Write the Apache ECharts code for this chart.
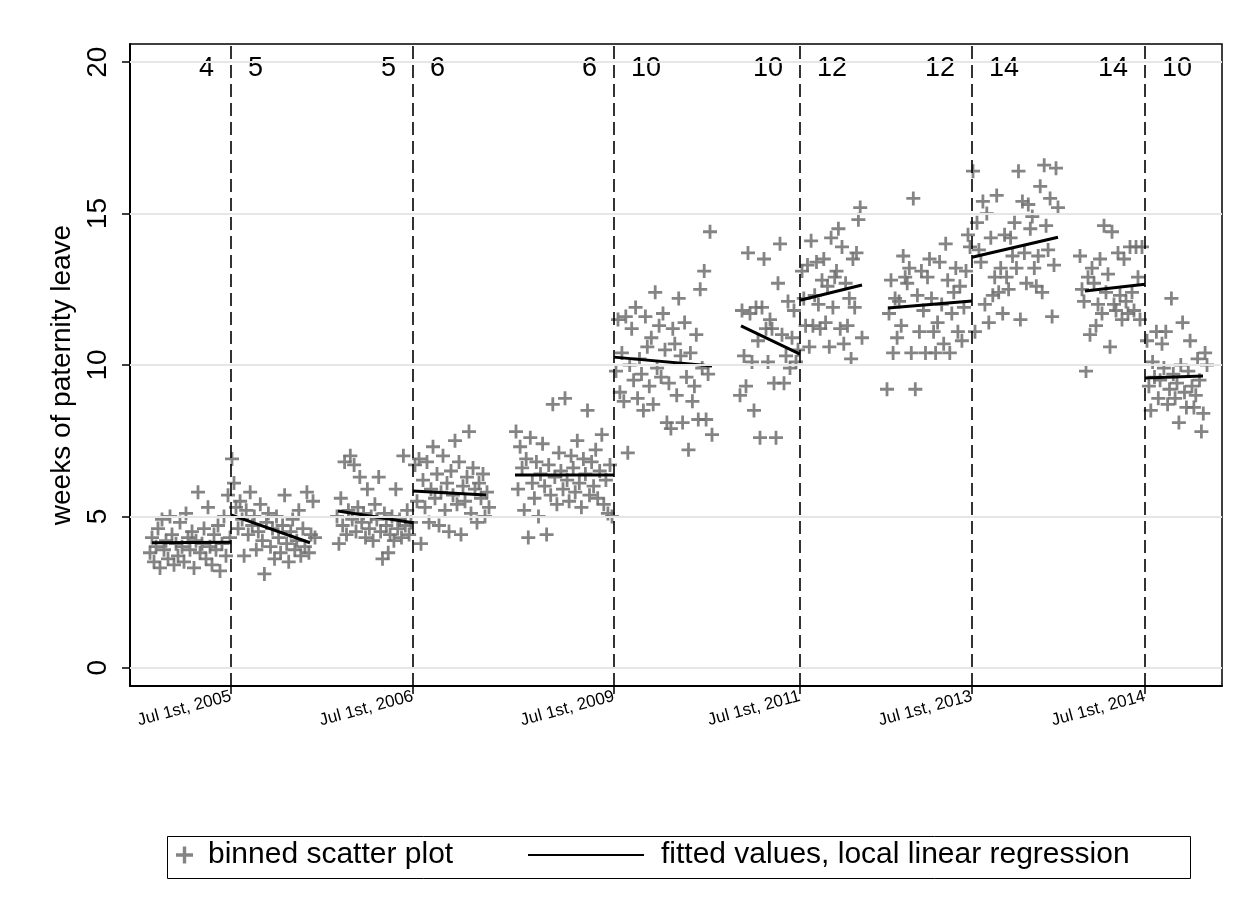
<!DOCTYPE html>
<html>
<head>
<meta charset="utf-8">
<script src="https://cdn.jsdelivr.net/npm/echarts@6/dist/echarts.min.js"></script>
<style>
  html, body { margin: 0; padding: 0; background: #fff; }
  #chart { width: 1244px; height: 911px; }
</style>
</head>
<body>
<div id="chart"></div>
<script>
// running bin index on the x axis; cutoffs are the policy reform dates
const cutoffs = [101, 283, 484, 670, 842, 1015];
const cutoffLabels = ['Jul 1st, 2005', 'Jul 1st, 2006', 'Jul 1st, 2009', 'Jul 1st, 2011', 'Jul 1st, 2013', 'Jul 1st, 2014'];
const weeksBefore = [4, 5, 6, 10, 12, 14];
const weeksAfter = [5, 6, 10, 12, 14, 10];

// first and last bin of each side of every cutoff
const binRanges = [
  [20, 100], [102, 185], [207, 281], [285, 359], [386, 482], [486, 582],
  [610, 668], [672, 732], [757, 840], [843, 928], [950, 1012], [1017, 1077]
];

// binned means, weeks of paternity leave
const bins2005pre = [3.8, 4.3, 3.5, 4.0, 4.6, 3.3, 4.9, 3.9, 4.2, 3.6, 5.0, 4.4, 3.4, 4.1, 3.7, 4.8, 4.0, 3.5, 5.1, 4.3, 3.9, 4.5, 3.3, 4.2, 5.8, 3.8, 4.1, 4.6, 3.6, 5.3, 4.0, 3.4, 4.4, 3.9, 4.7, 3.2, 4.1, 5.0, 3.7, 5.7, 4.3];
const bins2005post = [6.9, 6.1, 5.3, 4.6, 5.5, 4.9, 3.7, 5.2, 4.4, 5.8, 4.7, 5.0, 3.9, 4.5, 5.4, 4.2, 3.1, 4.8, 5.1, 4.0, 4.6, 3.6, 5.0, 4.3, 3.8, 4.7, 5.7, 4.1, 3.5, 4.5, 4.9, 3.9, 4.2, 5.2, 3.7, 4.6, 4.0, 5.8, 3.8, 4.4, 5.5, 4.3];
const bins2006pre = [5.0, 4.1, 5.6, 4.7, 6.8, 4.4, 5.2, 7.0, 4.9, 6.7, 4.5, 5.3, 6.3, 4.8, 5.1, 4.3, 5.9, 4.6, 5.0, 4.2, 5.4, 4.9, 6.3, 4.5, 3.6, 5.1, 4.7, 3.8, 4.4, 5.0, 4.2, 5.9, 4.6, 4.9, 4.3, 7.0, 4.7, 5.2, 4.4, 4.8];
const bins2006post = [6.7, 5.5, 6.9, 4.1, 6.2, 5.3, 6.8, 4.8, 5.9, 7.3, 5.6, 6.4, 4.7, 5.8, 7.0, 5.2, 6.1, 4.5, 6.5, 5.7, 7.5, 5.4, 6.8, 4.4, 6.0, 5.5, 6.3, 7.8, 5.1, 6.6, 5.9, 4.8, 6.1, 5.6, 6.4, 5.0, 5.8, 5.3];
const bins2009pre = [7.8, 5.9, 7.3, 6.6, 5.2, 6.9, 4.3, 7.6, 6.1, 5.6, 6.8, 5.0, 6.4, 7.4, 6.0, 4.4, 6.7, 5.7, 8.7, 6.3, 5.4, 7.1, 6.5, 5.9, 8.9, 6.2, 5.5, 7.0, 6.6, 5.8, 7.5, 6.1, 5.3, 6.9, 6.4, 8.5, 5.7, 6.8, 6.0, 7.2, 5.6, 6.5, 7.7, 5.4, 6.2, 5.1, 6.7, 5.0];
const bins2009post = [9.8, 11.5, 9.1, 10.4, 8.8, 11.6, 7.1, 10.0, 11.2, 9.5, 11.9, 8.9, 10.2, 9.7, 8.5, 11.6, 10.6, 9.3, 10.9, 8.7, 12.4, 9.9, 11.3, 9.6, 11.7, 10.5, 8.1, 9.4, 7.9, 11.2, 10.7, 9.0, 12.2, 10.3, 8.1, 11.4, 9.6, 7.2, 10.4, 8.8, 9.3, 11.0, 8.2, 12.5, 9.9, 13.1, 8.2, 9.7, 14.4, 7.7];
const bins2011pre = [9.0, 11.8, 10.3, 9.3, 13.7, 11.7, 10.1, 8.5, 11.9, 10.8, 7.6, 11.9, 13.5, 11.2, 10.1, 11.5, 11.2, 9.4, 7.6, 12.7, 14.0, 11.0, 9.4, 10.3, 12.1, 9.9, 10.9, 11.8, 10.1, 10.5];
const bins2011post = [13.1, 12.2, 11.3, 13.3, 10.6, 14.1, 11.3, 12.3, 13.4, 12.0, 11.2, 12.8, 13.5, 11.4, 12.6, 10.6, 14.2, 11.9, 12.9, 13.1, 14.5, 11.2, 13.9, 10.7, 12.7, 11.3, 12.2, 10.2, 13.5, 11.9, 13.7, 14.8, 15.2, 10.9];
const bins2013pre = [9.2, 11.7, 12.8, 10.4, 12.2, 10.9, 12.1, 11.3, 13.6, 12.9, 12.7, 13.2, 10.4, 15.5, 9.2, 12.3, 11.1, 13.1, 11.8, 10.4, 12.9, 13.5, 12.2, 11.1, 10.4, 11.4, 13.4, 12.0, 10.7, 14.0, 12.8, 10.4, 11.7, 12.4, 13.2, 11.1, 12.6, 10.8, 11.9, 13.1, 14.3, 13.9];
const bins2013post = [16.4, 11.1, 14.7, 13.8, 13.4, 15.4, 12.0, 15.0, 11.4, 14.2, 12.3, 12.9, 15.6, 12.4, 13.2, 11.7, 14.3, 12.9, 12.5, 14.2, 13.6, 14.7, 13.2, 16.4, 11.5, 15.4, 13.7, 12.7, 15.3, 14.5, 14.9, 13.2, 12.6, 13.6, 15.9, 12.4, 16.6, 14.6, 13.8, 15.5, 11.6, 13.3, 16.5, 15.2];
const bins2014pre = [13.6, 12.5, 12.1, 9.8, 12.9, 11.0, 13.2, 12.7, 11.3, 12.0, 13.5, 11.7, 14.6, 12.4, 13.0, 10.6, 14.4, 12.0, 11.8, 13.7, 12.3, 11.5, 13.5, 12.1, 11.7, 13.9, 12.4, 11.8, 13.9, 12.9, 11.5, 13.9];
const bins2014post = [10.8, 9.3, 8.5, 10.1, 9.6, 11.1, 8.9, 9.5, 10.7, 9.9, 11.1, 8.7, 9.2, 12.2, 9.7, 8.9, 9.4, 8.1, 10.0, 11.4, 9.1, 8.6, 9.8, 10.8, 9.3, 8.6, 9.0, 10.2, 9.5, 7.8, 8.4, 10.4, 10.0];

// local linear fits: [x0, y0, x1, y1] for each side of each cutoff
const fits = [
  [22, 4.13, 101, 4.15], [101, 5.05, 180, 4.13],
  [208, 5.18, 283, 4.79], [283, 5.84, 356, 5.71],
  [385, 6.37, 484, 6.37], [484, 10.26, 582, 9.97],
  [611, 11.29, 670, 10.36], [670, 12.14, 732, 12.64],
  [758, 11.88, 842, 12.11], [842, 13.56, 928, 14.22],
  [955, 12.44, 1015, 12.67], [1015, 9.57, 1073, 9.64]
];

const allBins = [bins2005pre, bins2005post, bins2006pre, bins2006post, bins2009pre, bins2009post,
  bins2011pre, bins2011post, bins2013pre, bins2013post, bins2014pre, bins2014post];

let scatterData = [];
allBins.forEach(function (ys, k) {
  let a = binRanges[k][0], b = binRanges[k][1];
  ys.forEach(function (y, i) {
    scatterData.push([+(a + i * (b - a) / (ys.length - 1)).toFixed(1), y]);
  });
});

let fitData = [];
fits.forEach(function (f) {
  fitData.push([f[0], f[1]], [f[2], f[3]], [f[2], null]);
});

const FONT = 'Liberation Sans';
const plus = 'path://M-1.2,-6 L1.2,-6 L1.2,-1.2 L6,-1.2 L6,1.2 L1.2,1.2 L1.2,6 L-1.2,6 L-1.2,1.2 L-6,1.2 L-6,-1.2 L-1.2,-1.2 Z';

let myChart = echarts.init(document.getElementById('chart'));
let option = {
  animation: false,
  backgroundColor: '#fff',
  textStyle: { fontFamily: FONT, color: '#000' },
  grid: {
    left: 130, top: 44, right: 22, bottom: 225,
    show: true, borderColor: '#000', borderWidth: 1.5
  },
  xAxis: {
    type: 'value', min: 0, max: 1092,
    axisLine: { show: true, onZero: false, lineStyle: { color: '#000', width: 2 } },
    axisTick: { show: true, length: 8, customValues: cutoffs, lineStyle: { color: '#000', width: 1.5 } },
    axisLabel: {
      customValues: cutoffs, rotate: 15, fontSize: 17, color: '#000', margin: 10,
      formatter: function (v) { return cutoffLabels[cutoffs.indexOf(v)]; }
    },
    splitLine: { show: false }
  },
  yAxis: {
    type: 'value', min: -0.6, max: 20.6,
    name: 'weeks of paternity leave', nameLocation: 'middle', nameGap: 50,
    nameTextStyle: { fontSize: 28, color: '#000', fontFamily: FONT, padding: [0, 20, 0, 0] },
    axisLine: { show: true, lineStyle: { color: '#000', width: 2 } },
    axisTick: { show: true, length: 8, customValues: [0, 5, 10, 15, 20], lineStyle: { color: '#000', width: 1.5 } },
    axisLabel: { customValues: [0, 5, 10, 15, 20], rotate: 90, fontSize: 28, color: '#000', margin: 18 },
    splitLine: { show: false }
  },
  legend: [{
    data: ['binned scatter plot'], left: 171, top: 835,
    itemWidth: 17, itemHeight: 17, itemGap: 0,
    textStyle: { fontSize: 30, color: '#000', fontFamily: FONT, padding: [0, 0, 0, 10] }
  }, {
    data: [{ name: 'fitted values, local linear regression', icon: 'rect' }], left: 523, top: 835,
    itemWidth: 116, itemHeight: 2,
    itemStyle: { color: '#000' },
    textStyle: { fontSize: 30, color: '#000', fontFamily: FONT, padding: [0, 0, 0, 12] }
  }],
  graphic: [{
    type: 'rect', left: 165, top: 834,
    shape: { width: 1023, height: 42 },
    style: { fill: 'none', stroke: '#000', lineWidth: 1 }
  }],
  series: [{
    name: 'guides', type: 'line', data: [[0, -5]], symbol: 'none',
    lineStyle: { opacity: 0 }, silent: true, z: 1,
    markLine: {
      silent: true, symbol: 'none', label: { show: false },
      data: [0, 5, 10, 15, 20].map(function (v) {
        return { yAxis: v, lineStyle: { color: '#e6e6e6', width: 2, type: 'solid' } };
      }).concat(cutoffs.map(function (c) {
        return { xAxis: c, lineStyle: { color: '#000', width: 1.6, type: [13, 6] } };
      }))
    }
  }, {
    name: 'binned scatter plot', type: 'scatter', data: scatterData,
    symbol: plus, symbolSize: 14, z: 2,
    itemStyle: { color: '#6e6e6e', opacity: 0.85 }
  }, {
    name: 'fitted values, local linear regression', type: 'line', data: fitData,
    symbol: 'none', connectNulls: false, z: 3,
    lineStyle: { color: '#000', width: 3 },
    itemStyle: { color: '#000' }
  }, {
    name: 'weeks before', type: 'scatter', symbolSize: 0, z: 4,
    itemStyle: { opacity: 1 },
    data: cutoffs.map(function (c) { return [c, 19.8]; }),
    label: {
      show: true, position: 'left', distance: 17, fontSize: 27, color: '#000', fontFamily: FONT,
      formatter: function (p) { return String(weeksBefore[p.dataIndex]); }
    }
  }, {
    name: 'weeks after', type: 'scatter', symbolSize: 0, z: 4,
    itemStyle: { opacity: 1 },
    data: cutoffs.map(function (c) { return [c, 19.8]; }),
    label: {
      show: true, position: 'right', distance: 17, fontSize: 27, color: '#000', fontFamily: FONT,
      formatter: function (p) { return String(weeksAfter[p.dataIndex]); }
    }
  }]
};
myChart.setOption(option);
</script>
</body>
</html>
